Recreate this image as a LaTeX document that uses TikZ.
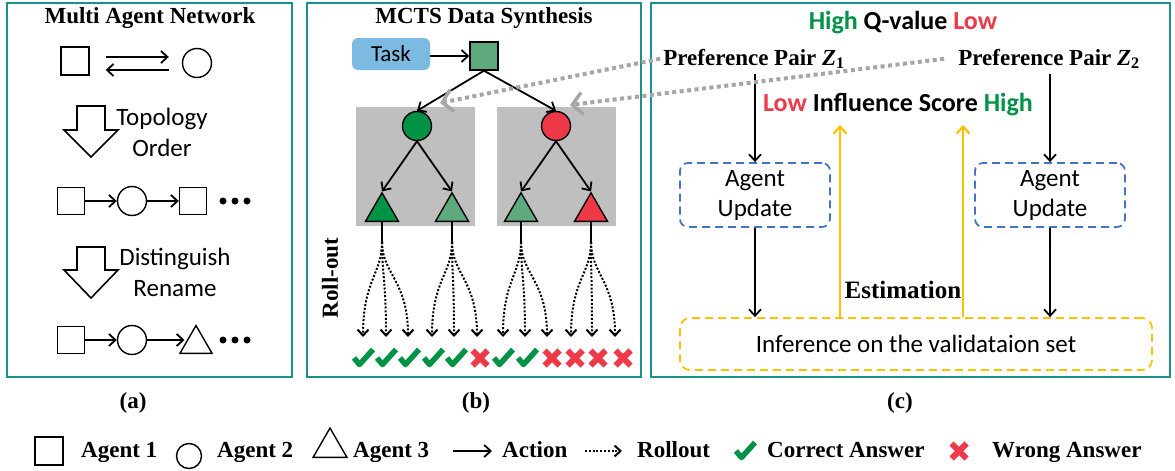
\documentclass[tikz,border=0pt]{standalone}
\usepackage{fontspec}
\setmainfont{Liberation Serif}
\newfontfamily\carl{Carlito}
\usetikzlibrary{arrows.meta,shapes.geometric,calc}
\definecolor{tealc}{RGB}{24,146,140}
\definecolor{dkgreen}{RGB}{0,146,69}
\definecolor{mdgreen}{RGB}{94,170,125}
\definecolor{redc}{RGB}{238,58,72}
\definecolor{taskblue}{RGB}{125,186,225}
\definecolor{grayr}{RGB}{191,191,191}
\definecolor{dotgray}{RGB}{166,166,166}
\definecolor{dashblue}{RGB}{68,114,196}
\definecolor{yel}{RGB}{255,192,0}
\begin{document}
\begin{tikzpicture}[x=1pt,y=-1pt,
  panel/.style={draw=tealc,line width=2.6pt},
  title/.style={font=\bfseries\fontsize{23}{28}\selectfont,inner sep=0},
  pref/.style={font=\bfseries\fontsize{23}{28}\selectfont,inner sep=0},
  leg/.style={font=\bfseries\fontsize{23}{28}\selectfont,inner sep=0},
  sans/.style={font=\carl\fontsize{25}{31}\selectfont,align=center,inner sep=0},
  sansb/.style={font=\carl\bfseries\fontsize{26}{31}\selectfont,inner sep=0},
  agsq/.style={draw,line width=1.4pt,minimum size=#1,inner sep=0},
  agci/.style={circle,draw,line width=1.4pt,minimum size=#1,inner sep=0},
  agtr/.style={regular polygon,regular polygon sides=3,draw,line width=1.4pt,minimum size=#1,inner sep=0},
  act/.style={line width=1.8pt,-{Straight Barb[length=6.5pt,width=12pt]}},
  roll/.style={line width=2pt,dash pattern=on 2pt off 1.8pt,-{Straight Barb[length=6pt,width=11pt]}},
  blockar/.style={line width=1.6pt,line join=miter},
  dotc/.style={circle,fill,minimum size=7pt,inner sep=0},
  task/.style={fill=taskblue,rounded corners=6pt,minimum width=78pt,minimum height=32pt,font=\carl\fontsize{23}{28}\selectfont},
  grect/.style={fill=grayr,minimum width=119pt,minimum height=119pt,inner sep=0},
  bluebox/.style={draw=dashblue,line width=1.8pt,dash pattern=on 8pt off 5pt,rounded corners=8pt,minimum width=150pt,minimum height=64pt,align=center,font=\carl\fontsize{25}{30}\selectfont,inner sep=0},
  yelbox/.style={draw=yel,line width=1.8pt,dash pattern=on 8pt off 5pt,rounded corners=10pt,minimum width=472pt,minimum height=52pt,font=\carl\fontsize{25}{30}\selectfont,inner sep=0},
  yarr/.style={draw=yel,line width=2.2pt,-{Straight Barb[length=7pt,width=13pt]}},
  grayarr/.style={draw=dotgray,line width=4pt,dash pattern=on 4pt off 3.5pt,-{Straight Barb[length=10pt,width=22pt,line width=3.5pt]}},
  chk/.pic={\draw[dkgreen,line width=5.5pt,line join=round] (-9,0) -- (-3.5,6.5) -- (10,-8.5);},
  crs/.pic={\draw[redc,line width=6pt] (-7.5,-7.5) -- (7.5,7.5) (-7.5,7.5) -- (7.5,-7.5);}
]
\useasboundingbox (0,0) rectangle (1175,471);
% panels
\draw[panel] (7,3) rectangle (292,377);
\draw[panel] (307,3) rectangle (641,377);
\draw[panel] (651,3) rectangle (1170,377);

% ---------- (a)
\node[title] (ta) at (150,18) {Multi Agent Network};
\node[agsq=28pt] (a1) at (75,61) {};
\node[agci=29pt] (a2) at (197,63) {};
\draw[act] ([shift={(16,-4)}]a1.east) -- ([shift={(-13,-6)}]a2.west);
\draw[act] ([shift={(-13,7)}]a2.west) -- ([shift={(16,9)}]a1.east);
\draw[blockar] (77,106) -- (105,106) -- (105,130) -- (118,130) -- (91,157) -- (64,130) -- (77,130) -- cycle;
\node[sans] (topo) at (162,132) {Topology\\Order};
\node[agsq=27pt] (b1) at (71,201) {};
\node[agci=29pt] (b2) at (132,201) {};
\node[agsq=27pt] (b3) at (193,201) {};
\draw[act] (b1) -- (b2);
\draw[act] (b2) -- (b3);
\node[dotc] (bd1) at (223,201) {};
\node[dotc] (bd2) at (235,201) {};
\node[dotc] (bd3) at (247,201) {};
\draw[blockar] (77,247) -- (105,247) -- (105,270) -- (118,270) -- (91,298) -- (64,270) -- (77,270) -- cycle;
\node[sans] (dist) at (175,272) {Distinguish\\Rename};
\node[agsq=27pt] (c1) at (71,340) {};
\node[agci=29pt] (c2) at (132,340) {};
\node[agtr=37pt,anchor=south] (c3) at (196,354) {};
\draw[act] (c1) -- (c2);
\draw[act] (c2.east) -- (c2.east -| c3.west);
\node[dotc] (cd1) at (223,340) {};
\node[dotc] (cd2) at (235,340) {};
\node[dotc] (cd3) at (247,340) {};

% ---------- (b)
\node[title] (tb) at (484,18) {MCTS Data Synthesis};
\node[task] (task) at (391,54) {Task};
\node[agsq=28pt,fill=mdgreen] (root) at (484,56) {};
\draw[act] (task.east |- root.west) -- (root.west);
\node[grect] (gl) at (415.5,166.5) {};
\node[grect] (gr) at (556.5,166.5) {};
\node[agci=29pt,fill=dkgreen] (n1) at (417,126) {};
\node[agci=29pt,fill=redc] (n2) at (556,126) {};
\draw[act] (root.south) -- (n1.north);
\draw[act] (root.south) -- (n2.north);
\node[agtr=38pt,anchor=south,fill=dkgreen] (t1) at (382,222) {};
\node[agtr=38pt,anchor=south,fill=mdgreen] (t2) at (452,222) {};
\node[agtr=38pt,anchor=south,fill=mdgreen] (t3) at (521,222) {};
\node[agtr=38pt,anchor=south,fill=redc] (t4) at (591,222) {};
\draw[act] (n1.south) -- (t1.north);
\draw[act] (n1.south) -- (t2.north);
\draw[act] (n2.south) -- (t3.north);
\draw[act] (n2.south) -- (t4.north);
\foreach \t/\a/\b/\c in {t1/363/386/408,t2/432/454/477,t3/503/525/547,t4/571/592/615}{
  \draw[line width=2pt] (\t.south) -- ++(0,20) coordinate (\t r);
  \foreach \e in {\a,\b,\c}{
    \coordinate (\t e\e) at (\e,337);
    \draw[roll] (\t r) .. controls ++(0,32) and (\e,280) .. (\t e\e);
  }
}
\foreach \x/\k in {363/chk,386/chk,409/chk,433/chk,456/chk,480/crs,503/chk,527/chk,552/crs,575/crs,598/crs,623/crs}
  \pic at (\x,358) {\k};
\node[title,rotate=90] (ro) at (330,278) {Roll-out};

% ---------- (c)
\node[sansb] (qv) at (903,23) {\textcolor{dkgreen}{High} Q-value \textcolor{redc}{Low}};
\node[pref,anchor=base] (p1) at (754,65) {Preference Pair \textit{Z}\textsubscript{1}};
\node[pref,anchor=base] (p2) at (1049,65) {Preference Pair \textit{Z}\textsubscript{2}};
\node[sansb] (infs) at (898,105) {\textcolor{redc}{Low} Influence Score \textcolor{dkgreen}{High}};
\node[bluebox] (u1) at (755,195) {Agent\\Update};
\node[bluebox] (u2) at (1050,195) {Agent\\Update};
\node[yelbox] (val) at (916,344) {Inference on the validataion set};
\draw[act] ($(p1.south -| u1.north)+(0,5)$) -- (u1.north);
\draw[act] ($(p2.south -| u2.north)+(0,5)$) -- (u2.north);
\draw[act] (u1.south) -- (u1.south |- val.north);
\draw[act] (u2.south) -- (u2.south |- val.north);
\coordinate (e1) at (840,125);
\coordinate (e2) at (963,125);
\draw[yarr] (e1 |- val.north) -- (e1);
\draw[yarr] (e2 |- val.north) -- (e2);
\node[pref,font=\bfseries\fontsize{25}{30}\selectfont] (est) at (903,290) {Estimation};

% gray dotted links
\coordinate (g1) at (440,103);
\coordinate (g2) at (570,105);
\draw[grayarr] ([xshift=-3pt]p1.west) -- (g1);
\draw[grayarr] ([xshift=-14pt]p2.west) -- (g2);

% captions
\node[title] (capa) at (133,403) {(a)};
\node[title] (capb) at (476,403) {(b)};
\node[title] (capc) at (900,403) {(c)};

% legend
\node[agsq=28pt] (l1) at (49,451) {};
\node[leg,anchor=base west] (l1t) at (81,457) {Agent 1};
\node[agci=25pt] (l2) at (189,456) {};
\node[leg,anchor=base west] (l2t) at (217,457) {Agent 2};
\node[agtr=39pt,anchor=south] (l3) at (330,458) {};
\node[leg,anchor=base west] (l3t) at (353,457) {Agent 3};
\coordinate (la0) at (453,451);
\coordinate (la1) at (492,451);
\draw[act] (la0) -- (la1);
\node[leg,anchor=base west] (l4t) at (502,457) {Action};
\coordinate (lr0) at (585,451);
\coordinate (lr1) at (622,451);
\draw[roll] (lr0) -- (lr1);
\node[leg,anchor=base west] (l5t) at (637,457) {Rollout};
\pic at (745,451) {chk};
\node[leg,anchor=base west] (l6t) at (767,457) {Correct Answer};
\pic at (959,451) {crs};
\node[leg,anchor=base west] (l7t) at (992,457) {Wrong Answer};
\end{tikzpicture}
\end{document}
